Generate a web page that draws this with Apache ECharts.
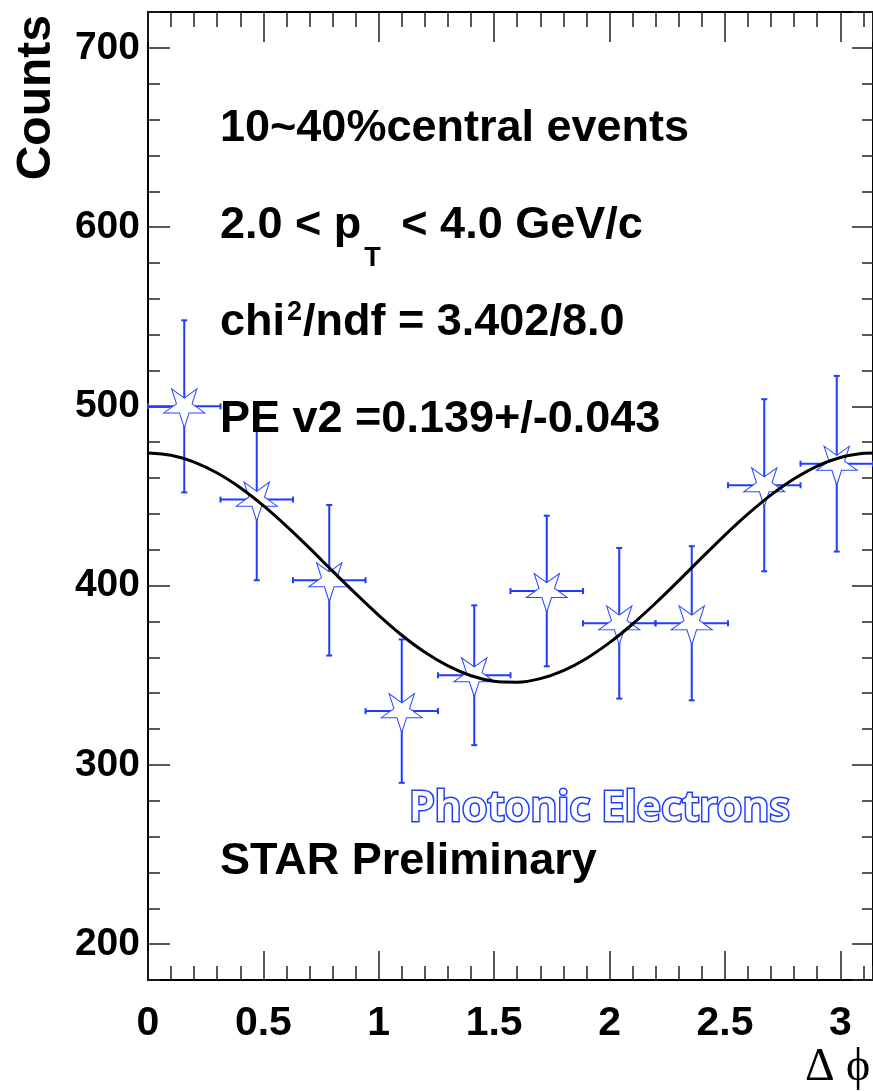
<!DOCTYPE html>
<html><head><meta charset="utf-8">
<script src="https://cdn.jsdelivr.net/npm/echarts@6.0.0/dist/echarts.min.js"></script>
<style>html,body{margin:0;padding:0;background:#fff;}#chart{width:873px;height:1092px;}</style>
</head><body><div id="chart"></div>
<script>
// ---- data ----
const binCenters    = [0.1571, 0.4712, 0.7854, 1.0996, 1.4137, 1.7279, 2.0420, 2.3562, 2.6704, 2.9845];
const binHalfWidths = [0.1571, 0.1571, 0.1571, 0.1571, 0.1571, 0.1571, 0.1571, 0.1571, 0.1571, 0.1571];
const counts        = [500, 448, 403, 330, 350, 397, 379, 379, 456, 468];
const countErrors   = [48, 45, 42, 40, 39, 42, 42, 43, 48, 49];
const fitX = [0, 0.1, 0.2, 0.3, 0.4, 0.5, 0.6, 0.7, 0.8, 0.9, 1.0, 1.1, 1.2, 1.3, 1.4, 1.5,
              1.6, 1.7, 1.8, 1.9, 2.0, 2.1, 2.2, 2.3, 2.4, 2.5, 2.6, 2.7, 2.8, 2.9, 3.0, 3.1, 3.1416];
const fitY = [474.0, 472.7, 468.9, 462.8, 454.6, 444.6, 433.2, 420.9, 408.1, 395.5, 383.4, 372.3, 362.8, 355.2, 349.7, 346.6,
              346.1, 348.1, 352.6, 359.4, 368.2, 378.6, 390.3, 402.8, 415.6, 428.2, 440.0, 450.6, 459.6, 466.7, 471.5, 473.8, 474.0];
const xTickValues = [0, 0.5, 1, 1.5, 2, 2.5, 3];
const xTickLabels = ['0', '0.5', '1', '1.5', '2', '2.5', '3'];
const yTickValues = [200, 300, 400, 500, 600, 700];
const yTickLabels = ['200', '300', '400', '500', '600', '700'];
const yAxisTitle = 'Counts';
const xAxisTitle = '\u0394 \u03D5';
const textLine1 = '10~40%central events';
const textLine2 = ['2.0 < p', 'T', ' < 4.0 GeV/c'];
const textLine3 = ['chi', '2', '/ndf = 3.402/8.0'];
const textLine4 = 'PE v2 =0.139+/-0.043';
const textStar = 'STAR Preliminary';
const textSpecies = 'Photonic Electrons';

// ---- styling ----
const BLUE = '#1f3dff';
const SANS = '"Liberation Sans", Arial, sans-serif';
const BIG = 'bold 45px ' + SANS;
const SMALL = 'bold 27px ' + SANS;
const X_MIN = 0, X_MAX = Math.PI, Y_MIN = 180, Y_MAX = 720;

const measure = (() => {
  const ctx = document.createElement('canvas').getContext('2d');
  return (txt, font) => { ctx.font = font; return ctx.measureText(txt).width; };
})();

function labelFor(values, labels) {
  return v => {
    for (let i = 0; i < values.length; i++) if (Math.abs(values[i] - v) < 1e-6) return labels[i];
    return '';
  };
}

const tickStyle = { color: '#222', width: 1.5 };
const frameLine = { show: true, onZero: false, lineStyle: { color: '#000', width: 2 } };
const noLine = { show: false, onZero: false };

const xBase = { type: 'value', min: X_MIN, max: X_MAX, splitLine: { show: false }, offset: 0 };
const yBase = { type: 'value', min: Y_MIN, max: Y_MAX, splitLine: { show: false }, offset: 0 };

const chart = echarts.init(document.getElementById('chart'), null, { renderer: 'canvas' });

const errData = binCenters.map((x, i) => [x, counts[i], binHalfWidths[i], countErrors[i]]);

function renderErrorBar(params, api) {
  const x = api.value(0), y = api.value(1), ex = api.value(2), ey = api.value(3);
  const top = api.coord([x, y + ey]);
  const bot = api.coord([x, y - ey]);
  const lft = api.coord([x - ex, y]);
  const rgt = api.coord([x + ex, y]);
  const cap = 3;
  const st = { stroke: BLUE, lineWidth: 2, fill: null };
  const L = (x1, y1, x2, y2) => ({ type: 'line', shape: { x1, y1, x2, y2 }, style: st });
  return {
    type: 'group',
    children: [
      L(top[0], top[1], bot[0], bot[1]),
      L(top[0] - cap, top[1], top[0] + cap, top[1]),
      L(bot[0] - cap, bot[1], bot[0] + cap, bot[1]),
      L(lft[0], lft[1], rgt[0], rgt[1]),
      L(lft[0], lft[1] - cap, lft[0], lft[1] + cap),
      L(rgt[0], rgt[1] - cap, rgt[0], rgt[1] + cap)
    ]
  };
}

const STAR = 'path://M100 200L77.7 130.7L4.9 130.9L63.9 88.3L41.2 19.1L100 62L158.8 19.1L136.1 88.3L195.1 130.9L122.3 130.7Z';

const L2a = measure(textLine2[0], BIG);
const L2b = measure(textLine2[1], SMALL);
const L3a = measure(textLine3[0], BIG);
const L3b = measure(textLine3[1], SMALL);

function txt(x, y, text, font, extra) {
  return {
    type: 'text', x, y, z: 100,
    style: Object.assign({ text, font, fill: '#000', align: 'left', verticalAlign: 'middle', textAlign: 'left', textVerticalAlign: 'middle' }, extra || {})
  };
}

const option = {
  animation: false,
  backgroundColor: '#fff',
  grid: { left: 148, top: 12, width: 727, height: 968 },
  xAxis: [
    Object.assign({}, xBase, {
      position: 'bottom', interval: 0.5,
      axisLine: frameLine,
      axisTick: { show: true, inside: true, length: 29, lineStyle: tickStyle },
      axisLabel: { show: true, margin: 23, showMaxLabel: false, fontFamily: SANS, fontWeight: 'bold', fontSize: 41, color: '#000', formatter: labelFor(xTickValues, xTickLabels) }
    }),
    Object.assign({}, xBase, {
      position: 'bottom', interval: 0.1,
      axisLine: noLine,
      axisTick: { show: true, inside: true, length: 14, lineStyle: tickStyle },
      axisLabel: { show: false }
    }),
    Object.assign({}, xBase, {
      position: 'top', interval: 0.5,
      axisLine: frameLine,
      axisTick: { show: true, inside: true, length: 30, lineStyle: tickStyle },
      axisLabel: { show: false }
    }),
    Object.assign({}, xBase, {
      position: 'top', interval: 0.1,
      axisLine: noLine,
      axisTick: { show: true, inside: true, length: 15, lineStyle: tickStyle },
      axisLabel: { show: false }
    })
  ],
  yAxis: [
    Object.assign({}, yBase, {
      position: 'left', splitNumber: 5,
      axisLine: frameLine,
      axisTick: { show: true, inside: true, length: 22, lineStyle: tickStyle },
      axisLabel: { show: true, margin: 8, showMinLabel: false, showMaxLabel: false, fontFamily: SANS, fontWeight: 'bold', fontSize: 39, color: '#000', formatter: labelFor(yTickValues, yTickLabels) }
    }),
    Object.assign({}, yBase, {
      position: 'left', interval: 20,
      axisLine: noLine,
      axisTick: { show: true, inside: true, length: 12, lineStyle: tickStyle },
      axisLabel: { show: false }
    }),
    Object.assign({}, yBase, {
      position: 'right', splitNumber: 5,
      axisLine: frameLine,
      axisTick: { show: true, inside: true, length: 21, lineStyle: tickStyle },
      axisLabel: { show: false }
    }),
    Object.assign({}, yBase, {
      position: 'right', interval: 20,
      axisLine: noLine,
      axisTick: { show: true, inside: true, length: 11, lineStyle: tickStyle },
      axisLabel: { show: false }
    })
  ],
  series: [
    {
      type: 'custom', name: 'errors', xAxisIndex: 0, yAxisIndex: 0, z: 2,
      renderItem: renderErrorBar,
      encode: { x: 0, y: 1 },
      data: errData,
      clip: false
    },
    {
      type: 'scatter', name: 'points', xAxisIndex: 0, yAxisIndex: 0, z: 3,
      symbol: STAR, symbolSize: [41, 39], symbolOffset: [0, 2],
      itemStyle: { color: '#ffffff', borderColor: '#2a48ff', borderWidth: 1, opacity: 1 },
      emphasis: { disabled: true },
      data: binCenters.map((x, i) => [x, counts[i]])
    },
    {
      type: 'line', name: 'fit', xAxisIndex: 0, yAxisIndex: 0, z: 4,
      smooth: 0.3, showSymbol: false, symbol: 'none',
      lineStyle: { color: '#000', width: 3 },
      data: fitX.map((x, i) => [x, fitY[i]])
    }
  ],
  graphic: [
    txt(220, 128.5, textLine1, BIG),
    txt(220, 226, textLine2[0], BIG),
    txt(220 + L2a + 3, 245, textLine2[1], SMALL, { verticalAlign: 'top', textVerticalAlign: 'top' }),
    txt(220 + L2a + 3 + L2b + 8, 226, textLine2[2], BIG),
    txt(220, 323, textLine3[0], BIG),
    txt(220 + L3a + 2, 299, textLine3[1], SMALL, { verticalAlign: 'top', textVerticalAlign: 'top' }),
    txt(220 + L3a + 2 + L3b + 1, 323, textLine3[2], BIG),
    txt(220, 419.5, textLine4, BIG),
    txt(220, 861.5, textStar, BIG),
    txt(409, 809, textSpecies, '600 42px "Noto Sans", sans-serif', { fill: '#ffffff', stroke: BLUE, lineWidth: 3 }),
    {
      type: 'text', x: 37, y: 15, rotation: Math.PI / 2, z: 100,
      style: { text: yAxisTitle, font: 'bold 48px ' + SANS, fill: '#000', align: 'right', verticalAlign: 'middle', textAlign: 'right', textVerticalAlign: 'middle' }
    },
    txt(805, 1068, xAxisTitle, '46px "Liberation Serif", "Times New Roman", serif')
  ]
};

chart.setOption(option);
</script>
</body></html>
